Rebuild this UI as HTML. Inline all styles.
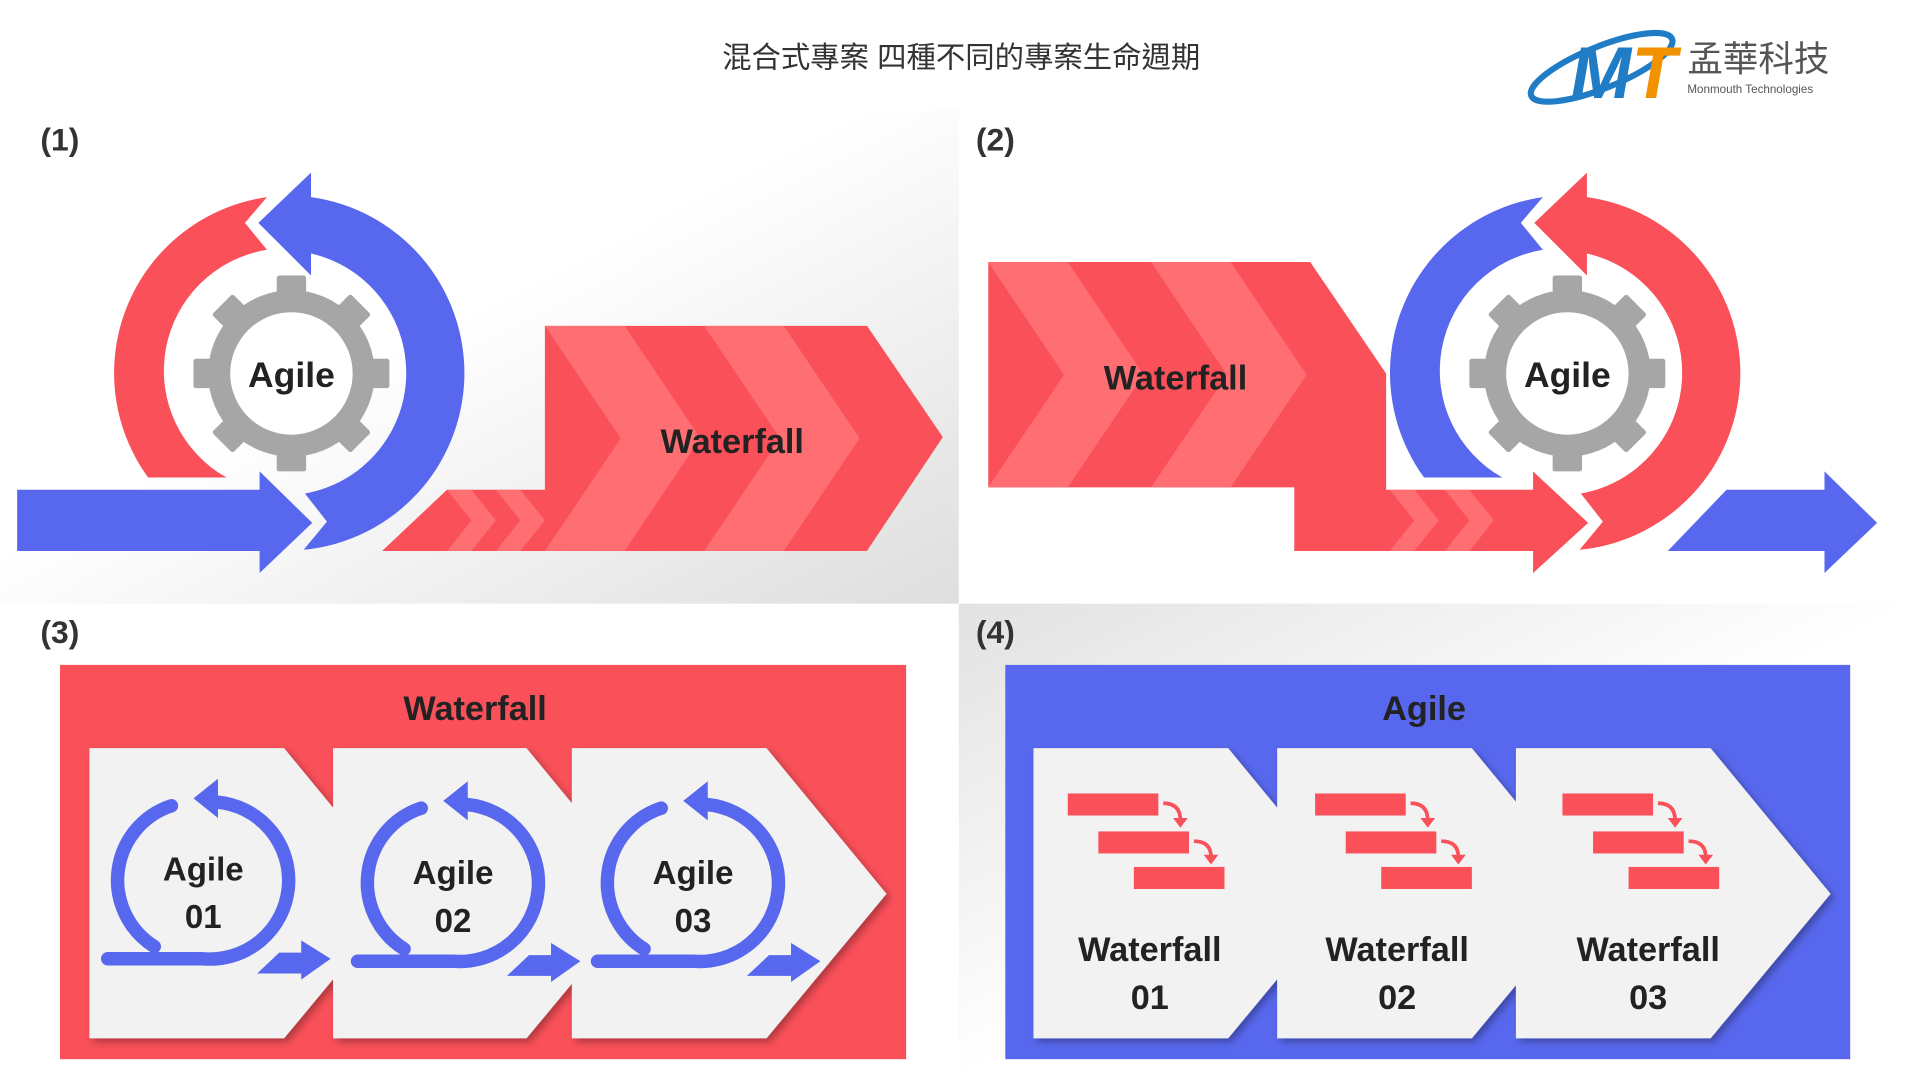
<!DOCTYPE html>
<html><head><meta charset="utf-8"><style>
html,body{margin:0;padding:0;width:1920px;height:1080px;overflow:hidden;background:#fff}
svg{display:block}
text{font-family:"Liberation Sans","Noto Sans CJK TC",sans-serif}
</style></head><body>
<svg width="1920" height="1080" viewBox="0 0 1568 882" preserveAspectRatio="none" xmlns="http://www.w3.org/2000/svg">
<defs>
<linearGradient id="g1" x1="0" y1="0" x2="1" y2="1"><stop offset="0.45" stop-color="#fff"/><stop offset="1" stop-color="#dedede"/></linearGradient>
<linearGradient id="g4" x1="0" y1="0" x2="1" y2="1"><stop offset="0" stop-color="#e2e2e2"/><stop offset="0.5" stop-color="#fff"/></linearGradient>
<filter id="sh" x="-10%" y="-10%" width="130%" height="130%"><feDropShadow dx="3" dy="3" stdDeviation="3" flood-color="#000" flood-opacity="0.3"/></filter>
<clipPath id="c1"><polygon points="445,266 708,266 770,357 708,450 312,450 365,400 445,400"/></clipPath>
<clipPath id="c2"><polygon points="807,214 1070,214 1132,305 1132,400 1252,400 1252,385 1297,427 1252,468 1252,450 1057,450 1057,398 807,398"/></clipPath>
<g id="gear">
<circle r="68" fill="#a6a6a6"/>
<g fill="#a6a6a6">
<rect x="-12" y="-80" width="24" height="30" rx="2"/><rect x="-12" y="-80" width="24" height="30" rx="2" transform="rotate(45)"/>
<rect x="-12" y="-80" width="24" height="30" rx="2" transform="rotate(90)"/><rect x="-12" y="-80" width="24" height="30" rx="2" transform="rotate(135)"/>
<rect x="-12" y="-80" width="24" height="30" rx="2" transform="rotate(180)"/><rect x="-12" y="-80" width="24" height="30" rx="2" transform="rotate(225)"/>
<rect x="-12" y="-80" width="24" height="30" rx="2" transform="rotate(270)"/><rect x="-12" y="-80" width="24" height="30" rx="2" transform="rotate(315)"/>
</g>
<circle r="50" fill="#fff"/>
</g>
<path id="leftarc" d="M121,390 A145,145 0 0 1 218,161 L200,182 L218,204 A100,100 0 0 0 185,390 Z"/>
<path id="rightarc" d="M254,161 A145,145 0 0 1 248,449 L267,426 L249,403 A100,100 0 0 0 254,207 Z M254,141 L211,182 L254,225 Z"/>
<g id="agicon">
<path d="M-26,-60 A64,64 0 0 0 -40,55" fill="none" stroke="#5868ee" stroke-width="11" stroke-linecap="round"/>
<path d="M-78,65 H0 A64,64 0 0 0 11,-63" fill="none" stroke="#5868ee" stroke-width="11" stroke-linecap="round"/>
<polygon points="-8,-66 12,-82 12,-50" fill="#5868ee"/>
<polygon points="44,77 62,60 80,60 80,50 104,65 80,82 80,77" fill="#5868ee"/>
</g>
<g id="wficon">
<rect x="0" y="0" width="74" height="18" fill="#fa5059"/>
<rect x="25" y="31" width="74" height="18" fill="#fa5059"/>
<rect x="54" y="60" width="74" height="18" fill="#fa5059"/>
<path d="M78,8 Q92,8 92,22" fill="none" stroke="#fa5059" stroke-width="3"/><polygon points="86,20 98,20 92,28" fill="#fa5059"/>
<path d="M103,39 Q117,39 117,52" fill="none" stroke="#fa5059" stroke-width="3"/><polygon points="111,50 123,50 117,58" fill="#fa5059"/>
</g>
</defs>

<rect x="0" y="90" width="783" height="403" fill="url(#g1)"/>
<rect x="783" y="493" width="785" height="389" fill="url(#g4)"/>

<text x="785" y="55" font-size="24" fill="#333" text-anchor="middle">混合式專案 四種不同的專案生命週期</text>

<!-- logo -->
<ellipse cx="1308" cy="55" rx="62" ry="17" transform="rotate(-22 1308 55)" fill="none" stroke="#1f7cc5" stroke-width="5"/>
<text x="1280" y="80" font-size="60" font-weight="bold" fill="#1f7cc5" transform="skewX(-10) translate(14,0)">M</text>
<text x="1330" y="80" font-size="60" font-weight="bold" fill="#f39200" transform="skewX(-10) translate(14,0)">T</text>
<text x="1378" y="58" font-size="29" fill="#555">孟華科技</text>
<text x="1378" y="76" font-size="9.5" fill="#555">Monmouth Technologies</text>

<g font-size="26" font-weight="bold" fill="#333">
<text x="33" y="123">(1)</text><text x="797" y="123">(2)</text>
<text x="33" y="525">(3)</text><text x="797" y="525">(4)</text>
</g>

<!-- Panel 1 -->
<g clip-path="url(#c1)">
<rect x="300" y="260" width="480" height="200" fill="#fa5059"/>
<g fill="#ff6e72">
<polygon points="445,266 510,266 572,358 510,450 445,450 507,358"/>
<polygon points="575,266 640,266 702,358 640,450 575,450 637,358"/>
<polygon points="365,400 385,400 405,425 385,450 365,450 385,425"/>
<polygon points="405,400 425,400 445,425 425,450 405,450 425,425"/>
</g>
</g>
<use href="#leftarc" fill="#fa5059"/>
<use href="#rightarc" fill="#5868ee"/>
<polygon points="14,400 212,400 212,385 255,427 212,468 212,450 14,450" fill="#5868ee"/>
<use href="#gear" x="238" y="305"/>
<text x="238" y="316" font-size="29" font-weight="bold" fill="#222" text-anchor="middle">Agile</text>
<text x="598" y="370" font-size="28" font-weight="bold" fill="#222" text-anchor="middle">Waterfall</text>

<!-- Panel 2 -->
<g clip-path="url(#c2)">
<rect x="800" y="200" width="520" height="280" fill="#fa5059"/>
<g fill="#ff6e72">
<polygon points="807,214 872,214 934,306 872,398 807,398 869,306"/>
<polygon points="940,214 1005,214 1067,306 1005,398 940,398 1002,306"/>
<polygon points="1135,400 1155,400 1175,425 1155,450 1135,450 1155,425"/>
<polygon points="1180,400 1200,400 1220,425 1200,450 1180,450 1200,425"/>
</g>
</g>
<g transform="translate(1042,0)">
<use href="#leftarc" fill="#5868ee"/>
<use href="#rightarc" fill="#fa5059"/>
</g>
<polygon points="1362,450 1410,400 1490,400 1490,385 1533,427 1490,468 1490,450" fill="#5868ee"/>
<use href="#gear" x="1280" y="305"/>
<text x="1280" y="316" font-size="29" font-weight="bold" fill="#222" text-anchor="middle">Agile</text>
<text x="960" y="318" font-size="28" font-weight="bold" fill="#222" text-anchor="middle">Waterfall</text>

<!-- Panel 3 -->
<rect x="49" y="543" width="691" height="322" fill="#fa5059"/>
<text x="388" y="588" font-size="28" font-weight="bold" fill="#222" text-anchor="middle">Waterfall</text>
<g fill="#f2f2f2" filter="url(#sh)">
<polygon points="467,611 626,611 724,730 626,848 467,848"/>
<polygon points="272,611 430,611 528,730 430,848 272,848"/>
<polygon points="73,611 232,611 330,730 232,848 73,848"/>
</g>
<use href="#agicon" x="166" y="718"/>
<use href="#agicon" x="370" y="720"/>
<use href="#agicon" x="566" y="720"/>
<g font-size="27" font-weight="bold" fill="#222" text-anchor="middle">
<text x="166" y="719">Agile</text><text x="166" y="758">01</text>
<text x="370" y="722">Agile</text><text x="370" y="761">02</text>
<text x="566" y="722">Agile</text><text x="566" y="761">03</text>
</g>

<!-- Panel 4 -->
<rect x="821" y="543" width="690" height="322" fill="#5868ee"/>
<text x="1163" y="588" font-size="28" font-weight="bold" fill="#222" text-anchor="middle">Agile</text>
<g fill="#f2f2f2" filter="url(#sh)">
<polygon points="1238,611 1397,611 1495,730 1397,848 1238,848"/>
<polygon points="1043,611 1202,611 1300,730 1202,848 1043,848"/>
<polygon points="844,611 1003,611 1101,730 1003,848 844,848"/>
</g>
<use href="#wficon" x="872" y="648"/>
<use href="#wficon" x="1074" y="648"/>
<use href="#wficon" x="1276" y="648"/>
<g font-size="28" font-weight="bold" fill="#222" text-anchor="middle">
<text x="939" y="785">Waterfall</text><text x="939" y="824">01</text>
<text x="1141" y="785">Waterfall</text><text x="1141" y="824">02</text>
<text x="1346" y="785">Waterfall</text><text x="1346" y="824">03</text>
</g>
</svg>
</body></html>
